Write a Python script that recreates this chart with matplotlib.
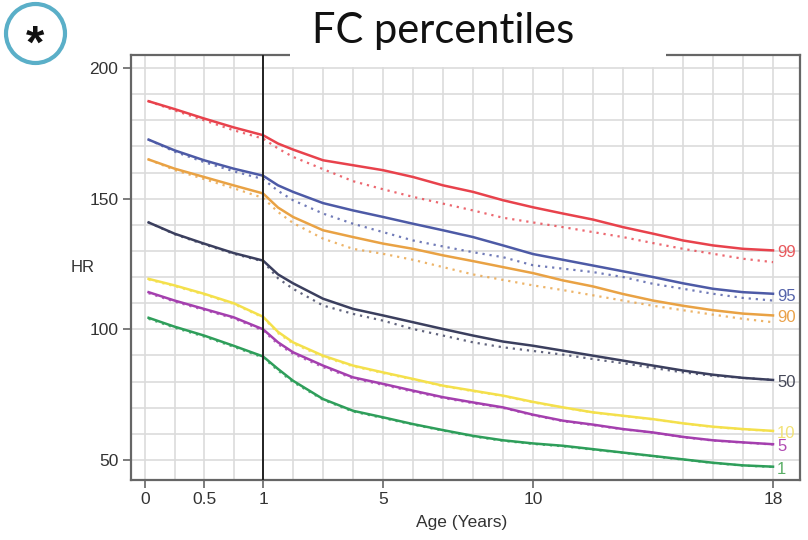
import numpy as np
import matplotlib
matplotlib.use("Agg")
import matplotlib.pyplot as plt
from matplotlib.patches import Rectangle, Ellipse

# ages (years) where the curves were read
ages = [0.03, 0.25, 0.5, 0.75, 1, 1.5, 2, 3, 4, 5, 6, 7, 8, 9, 10,
        11, 12, 13, 14, 15, 16, 17, 18]

# solid curves
p99 = [187.3, 184.3, 180.7, 177.3, 174.3, 171.1, 168.8, 164.7, 162.8, 160.9, 158.3, 155.1,
       152.6, 149.4, 146.7, 144.3, 142.0, 139.1, 136.6, 134.0, 132.1, 130.8, 130.2]
p95 = [172.6, 168.5, 164.7, 161.5, 158.8, 155.1, 152.6, 148.3, 145.5, 143.0, 140.4, 137.9,
       135.3, 132.1, 128.8, 126.6, 124.4, 122.2, 120.0, 117.6, 115.5, 114.2, 113.6]
p90 = [165.0, 161.5, 158.3, 155.1, 152.0, 146.6, 143.0, 137.9, 135.3, 132.8, 130.8, 128.3,
       126.1, 123.8, 121.5, 118.7, 116.4, 113.5, 111.0, 109.0, 107.3, 106.0, 105.3]
p50 = [140.9, 136.6, 132.8, 129.2, 126.3, 121.0, 117.6, 111.7, 107.8, 105.3, 102.7, 100.1,
       97.6, 95.3, 93.7, 91.8, 89.9, 88.0, 86.1, 84.2, 82.6, 81.4, 80.6]
p10 = [119.3, 116.8, 113.6, 110.0, 104.8, 99.0, 95.0, 89.9, 86.1, 83.5, 81.0, 78.4,
       76.5, 74.6, 72.2, 70.1, 68.2, 66.9, 65.6, 64.0, 62.7, 61.8, 61.1]
p5 = [114.2, 111.0, 107.8, 104.6, 100.0, 95.0, 91.2, 86.1, 81.6, 79.1, 76.5, 74.0,
      72.0, 70.1, 67.3, 65.0, 63.5, 61.8, 60.5, 58.8, 57.5, 56.7, 56.0]
p1 = [104.4, 101.0, 97.6, 93.7, 89.6, 84.8, 80.3, 73.3, 68.8, 66.3, 63.7, 61.4,
      59.2, 57.5, 56.3, 55.4, 54.1, 52.8, 51.5, 50.2, 48.9, 47.9, 47.4]

# dotted curves
d99 = [187.3, 183.8, 180.0, 176.2, 173.0, 169.2, 166.0, 161.3, 156.7, 153.6, 150.7, 148.1,
       145.5, 142.7, 140.9, 139.1, 137.2, 135.3, 133.0, 130.8, 128.9, 127.0, 125.7]
d95 = [172.6, 168.0, 164.0, 160.5, 157.5, 153.0, 149.4, 144.3, 140.4, 137.2, 134.0, 131.7,
       129.5, 127.6, 124.5, 123.2, 121.9, 120.0, 117.4, 115.5, 113.6, 112.0, 111.0]
d90 = [165.0, 161.0, 157.5, 154.0, 150.3, 144.9, 140.7, 134.7, 130.8, 128.9, 126.6, 123.8,
       121.0, 118.9, 116.8, 115.0, 113.0, 111.0, 109.0, 107.3, 105.6, 104.0, 102.7]
d50 = [140.9, 136.4, 132.5, 128.9, 126.0, 119.5, 115.5, 109.1, 105.9, 103.3, 100.1, 97.6,
       95.0, 93.1, 91.7, 90.3, 88.6, 87.0, 85.2, 83.5, 82.2, 81.4, 80.6]
d10 = [119.0, 116.5, 113.3, 109.7, 104.5, 98.5, 94.5, 89.5, 85.8, 83.2, 80.8, 78.2,
       76.3, 74.4, 72.0, 70.0, 68.1, 66.8, 65.5, 63.9, 62.6, 61.7, 61.0]
d5 = [113.8, 110.6, 107.4, 104.2, 99.5, 94.3, 90.6, 85.5, 81.2, 78.7, 76.1, 73.7,
      71.7, 69.9, 67.1, 64.8, 63.3, 61.7, 60.4, 58.7, 57.4, 56.6, 55.9]
d1 = [104.0, 100.6, 97.2, 93.3, 89.2, 84.2, 79.8, 73.0, 68.5, 66.0, 63.5, 61.2,
      59.0, 57.3, 56.1, 55.2, 53.9, 52.7, 51.4, 50.1, 48.8, 47.8, 47.3]

labels = ["99", "95", "90", "50", "10", "5", "1"]
solid = [p99, p95, p90, p50, p10, p5, p1]
dotted = [d99, d95, d90, d50, d10, d5, d1]
colors = ["#e8424c", "#4d5aa6", "#e9a244", "#3b3f5e", "#f4e04c", "#a43fae", "#2e9e5a"]
label_colors = ["#e85a5e", "#5563aa", "#eaa24a", "#454858", "#f2e276", "#b04ab2", "#5aae66"]

xticks = [0, 0.5, 1, 5, 10, 18]
xtick_labels = ["0", "0.5", "1", "5", "10", "18"]
yticks = [50, 100, 150, 200]

# first year is stretched: 118 px for year 0-1, 30 px per year after
K = 118 / 30


def fwd(a):
    a = np.asarray(a, dtype=float)
    return np.where(a < 1, a * K, K + a - 1)


def inv(p):
    p = np.asarray(p, dtype=float)
    return np.where(p < K, p / K, p - K + 1)


plt.rcParams['font.family'] = ['Liberation Sans', 'DejaVu Sans']

fig = plt.figure(figsize=(8.08, 5.4), dpi=100)
ax = fig.add_axes([131 / 808, 60 / 540, 669 / 808, 425 / 540])
ax.set_xscale('function', functions=(fwd, inv))
ax.set_xlim(-0.119, 18.9)
ax.set_ylim(42.3, 205)

# grid
grid_x = [0, 0.25, 0.5, 0.75] + list(range(1, 19))
for gx in grid_x:
    ax.axvline(gx, color="#dcdcdc", lw=1.2, zorder=0)
for gy in range(50, 201, 10):
    ax.axhline(gy, color="#dcdcdc", lw=1.2, zorder=0)

ax.axvline(1, color="#222222", lw=1.4, zorder=3)

for s, d, c in zip(solid, dotted, colors):
    ax.plot(ages, d, color=c, lw=1.6, ls=(0, (1, 2.2)), alpha=0.8, zorder=2)
    ax.plot(ages, s, color=c, lw=1.8, zorder=2)

for lab, s, c in zip(labels, solid, label_colors):
    ax.text(18.13, s[-1] - 0.9, lab, color=c, fontsize=12, ha="left", va="center")

ax.set_xticks(xticks)
ax.set_xticklabels(xtick_labels)
ax.set_yticks(yticks)
ax.tick_params(direction="out", length=6, width=1.2, color="#666666",
               labelsize=12.5, labelcolor="#333333", pad=3)
for sp in ax.spines.values():
    sp.set_color("#666666")
    sp.set_linewidth(1.6)

fig.text(83 / 808, 1 - 268 / 540, "HR", fontsize=12, color="#333333",
         ha="center", va="center")
fig.text(462 / 808, 1 - 522 / 540, "Age (Years)", fontsize=12.5, color="#333333",
         ha="center", va="center")

# title box covering the top border
fig.patches.append(Rectangle((290 / 808, 1 - 67 / 540), 376 / 808, 67 / 540,
                             transform=fig.transFigure, facecolor="white",
                             edgecolor="none", zorder=5))
fig.text(443 / 808, 1 - 31 / 540, "FC percentiles", fontsize=30, color="#111111",
         family="Lato", ha="center", va="center", zorder=6)

# circled asterisk
fig.patches.append(Ellipse((35.5 / 808, 1 - 33.5 / 540), 59 / 808, 59 / 540,
                           transform=fig.transFigure, facecolor="white",
                           edgecolor="#5aafc8", lw=3, zorder=6))
fig.text(35.5 / 808, 1 - 46 / 540, "*", fontsize=34, color="#111111",
         fontweight="bold", ha="center", va="center", zorder=7)

fig.savefig("out.png", dpi=100)
